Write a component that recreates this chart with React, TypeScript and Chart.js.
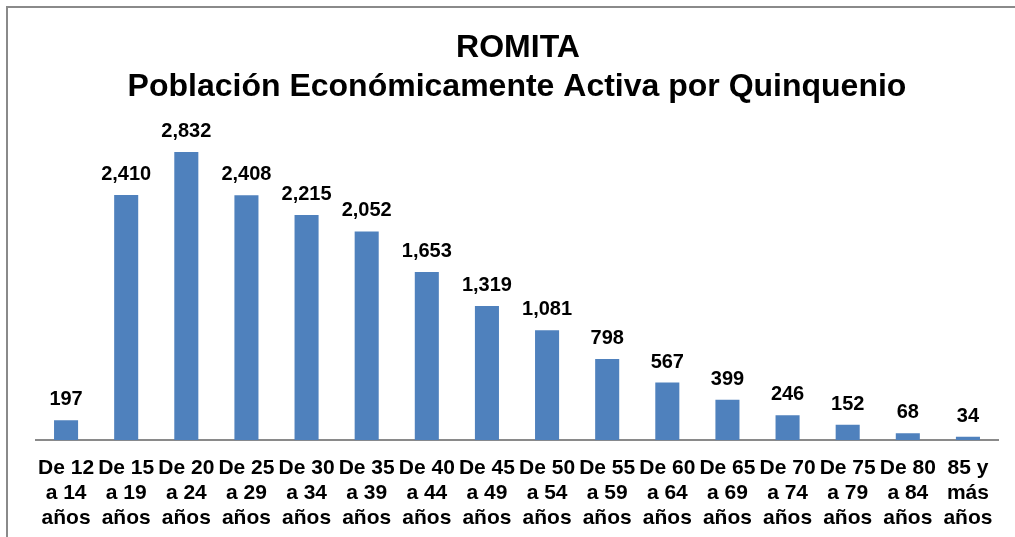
import React, { useEffect, useRef } from "react";
import { Chart, registerables } from "chart.js";

Chart.register(...registerables);

const categories: string[][] = [
  ["De 12", "a 14", "años"],
  ["De 15", "a 19", "años"],
  ["De 20", "a 24", "años"],
  ["De 25", "a 29", "años"],
  ["De 30", "a 34", "años"],
  ["De 35", "a 39", "años"],
  ["De 40", "a 44", "años"],
  ["De 45", "a 49", "años"],
  ["De 50", "a 54", "años"],
  ["De 55", "a 59", "años"],
  ["De 60", "a 64", "años"],
  ["De 65", "a 69", "años"],
  ["De 70", "a 74", "años"],
  ["De 75", "a 79", "años"],
  ["De 80", "a 84", "años"],
  ["85 y", "más", "años"],
];
const values: number[] = [197, 2410, 2832, 2408, 2215, 2052, 1653, 1319, 1081, 798, 567, 399, 246, 152, 68, 34];
const titleLines: string[] = ["ROMITA", "Población Económicamente Activa por Quinquenio"];

const FONT = "'Liberation Sans', Arial, sans-serif";

const decorPlugin = {
  id: "decor",
  beforeDraw(chart: any) {
    const ctx = chart.ctx;
    ctx.save();
    ctx.fillStyle = "#ffffff";
    ctx.fillRect(0, 0, chart.width, chart.height);
    ctx.strokeStyle = "#8a8a8a";
    ctx.lineWidth = 2;
    ctx.strokeRect(7, 7, chart.width + 20, chart.height + 20);
    ctx.fillStyle = "#000000";
    ctx.textAlign = "center";
    ctx.textBaseline = "alphabetic";
    ctx.font = `bold 32px ${FONT}`;
    ctx.fillText(titleLines[0], 518, 57);
    ctx.fillText(titleLines[1], 517, 96);
    ctx.restore();
  },
  afterDatasetsDraw(chart: any) {
    const ctx = chart.ctx;
    const meta = chart.getDatasetMeta(0);
    ctx.save();
    ctx.fillStyle = "#000000";
    ctx.font = `bold 20px ${FONT}`;
    ctx.textAlign = "center";
    ctx.textBaseline = "alphabetic";
    meta.data.forEach((bar: any, i: number) => {
      const v = chart.data.datasets[0].data[i] as number;
      ctx.fillText(v.toLocaleString("en-US"), bar.x, bar.y - 15);
    });
    ctx.restore();
  },
};

export default function App() {
  const ref = useRef<HTMLCanvasElement>(null);
  useEffect(() => {
    if (!ref.current) return;
    const chart = new Chart(ref.current, {
      type: "bar",
      data: {
        labels: categories,
        datasets: [
          {
            data: values,
            backgroundColor: "#4F81BD",
            barPercentage: 0.4,
            categoryPercentage: 1,
          },
        ],
      },
      options: {
        animation: false,
        responsive: false,
        layout: { padding: { left: 36, right: 17, top: 135, bottom: -1 } },
        plugins: {
          legend: { display: false },
          title: { display: false },
          tooltip: { enabled: false },
        },
        scales: {
          x: {
            grid: { display: false },
            border: { display: true, color: "#8a8a8a", width: 2 },
            ticks: {
              color: "#000000",
              font: { family: FONT, size: 21, weight: "bold", lineHeight: 1.17 },
              maxRotation: 0,
              autoSkip: false,
              padding: 8,
            },
          },
          y: {
            display: false,
            min: 0,
            max: 3000,
          },
        },
      },
      plugins: [decorPlugin],
    });
    return () => chart.destroy();
  }, []);
  return (
    <div style={{ position: "absolute", left: 0, top: 0, width: 1015, height: 537 }}>
      <canvas ref={ref} width={1015} height={537} style={{ display: "block" }} />
    </div>
  );
}
